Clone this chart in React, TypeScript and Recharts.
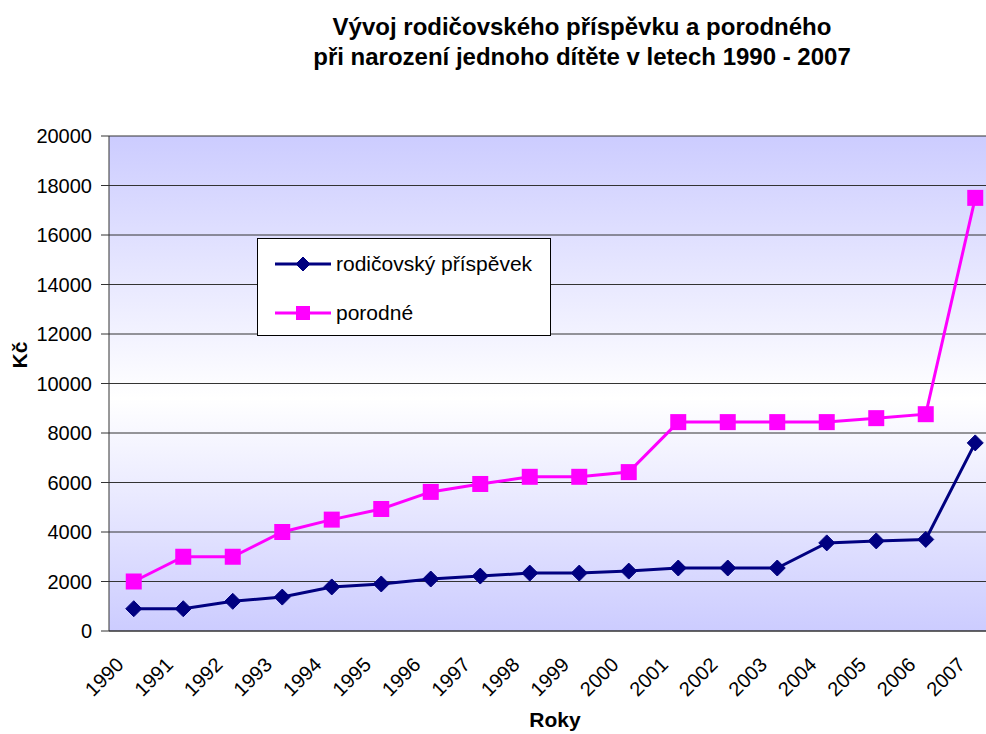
import React from 'react'
import { LineChart, Line, XAxis, YAxis, CartesianGrid } from 'recharts'

const years = [
  '1990', '1991', '1992', '1993', '1994', '1995', '1996', '1997', '1998',
  '1999', '2000', '2001', '2002', '2003', '2004', '2005', '2006', '2007',
]
const rodicovsky = [
  900, 900, 1200, 1370, 1780, 1900, 2100, 2220, 2340,
  2340, 2420, 2545, 2545, 2545, 3560, 3640, 3700, 7600,
]
const porodne = [
  2000, 3000, 3000, 4000, 4500, 4930, 5620, 5940, 6230,
  6230, 6420, 8440, 8440, 8440, 8440, 8600, 8760, 17500,
]
const yTicks = [0, 2000, 4000, 6000, 8000, 10000, 12000, 14000, 16000, 18000, 20000]

const FONT = '"Liberation Sans", Arial, sans-serif'
const NAVY = '#000080'
const PINK = '#ff00ff'

// one slot per year; boundaries carry the tick marks, slot centres carry the points
const data = years.map((year, i) => ({
  year,
  slot: i + 0.5,
  rodic: rodicovsky[i],
  porod: porodne[i],
}))
const boundaryTicks = years.map((_, i) => i).concat(years.length)
const labelTicks = years.map((_, i) => i + 0.5)

function Diamond({ cx, cy, size = 8 }: { cx: number; cy: number; size?: number }) {
  return (
    <path
      d={`M${cx},${cy - size} L${cx + size},${cy} L${cx},${cy + size} L${cx - size},${cy} Z`}
      fill={NAVY}
      stroke={NAVY}
    />
  )
}

function Square({ cx, cy, size = 8 }: { cx: number; cy: number; size?: number }) {
  return <rect x={cx - size} y={cy - size} width={size * 2} height={size * 2} fill={PINK} />
}

function YearTick(props: any) {
  const { x, y, payload } = props
  const label = years[Math.floor(payload.value)]
  if (!label) return null
  const ax = x - 9
  const ay = y + 27
  return (
    <text
      x={ax}
      y={ay}
      transform={`rotate(-45 ${ax} ${ay})`}
      textAnchor="end"
      fontSize={20}
      fontFamily={FONT}
      fill="#000"
    >
      {label}
    </text>
  )
}

function LegendRow({ label, marker }: { label: string; marker: 'diamond' | 'square' }) {
  const color = marker === 'diamond' ? NAVY : PINK
  return (
    <div style={{ display: 'flex', alignItems: 'center', height: 49 }}>
      <svg width={58} height={20} style={{ marginLeft: 17, marginRight: 3 }}>
        <line x1={0} y1={10} x2={56} y2={10} stroke={color} strokeWidth={3} />
        {marker === 'diamond' ? <Diamond cx={28} cy={10} size={7} /> : <Square cx={28} cy={10} size={7} />}
      </svg>
      <span style={{ fontSize: 21, color: '#000' }}>{label}</span>
    </div>
  )
}

export default function App() {
  return (
    <div
      style={{
        position: 'absolute',
        left: 0,
        top: 0,
        width: 986,
        height: 734,
        overflow: 'hidden',
        background: '#fff',
        fontFamily: FONT,
      }}
    >
      <div
        style={{
          position: 'absolute',
          left: 182,
          top: 12,
          width: 800,
          textAlign: 'center',
          fontSize: 24,
          fontWeight: 'bold',
          lineHeight: '30px',
        }}
      >
        Vývoj rodičovského příspěvku a porodného
        <br />
        při narození jednoho dítěte v letech 1990 - 2007
      </div>

      <LineChart
        width={1010}
        height={734}
        data={data}
        margin={{ top: 136, right: 10, left: 0, bottom: 0 }}
      >
        <defs>
          <linearGradient id="plotBg" x1="0" y1="0" x2="0" y2="1">
            <stop offset="0%" stopColor="#ccccff" />
            <stop offset="53%" stopColor="#ffffff" />
            <stop offset="100%" stopColor="#ccccff" />
          </linearGradient>
        </defs>
        <CartesianGrid
          vertical={false}
          stroke="#333"
          fill="url(#plotBg)"
          fillOpacity={1}
        />
        <XAxis
          xAxisId="a_marks"
          type="number"
          dataKey="slot"
          domain={[0, years.length]}
          ticks={boundaryTicks}
          tick={false}
          tickSize={8}
          height={8}
          stroke="#333"
          allowDataOverflow
        />
        <XAxis
          xAxisId="b_labels"
          type="number"
          dataKey="slot"
          domain={[0, years.length]}
          ticks={labelTicks}
          tick={<YearTick />}
          tickLine={false}
          axisLine={false}
          tickSize={0}
          tickMargin={0}
          height={95}
          interval={0}
          allowDataOverflow
        />
        <YAxis
          domain={[0, 20000]}
          ticks={yTicks}
          width={109}
          tickSize={8}
          tickMargin={9}
          stroke="#333"
          interval={0}
          tick={{ fill: '#000', fontSize: 20, fontFamily: FONT }}
        />
        <Line
          xAxisId="b_labels"
          dataKey="rodic"
          stroke={NAVY}
          strokeWidth={3}
          dot={(p: any) => <Diamond key={`d${p.index}`} cx={p.cx} cy={p.cy} />}
          isAnimationActive={false}
        />
        <Line
          xAxisId="b_labels"
          dataKey="porod"
          stroke={PINK}
          strokeWidth={3}
          dot={(p: any) => <Square key={`s${p.index}`} cx={p.cx} cy={p.cy} />}
          isAnimationActive={false}
        />
      </LineChart>

      <div
        style={{
          position: 'absolute',
          left: 20,
          top: 355,
          transform: 'translate(-50%, -50%) rotate(-90deg)',
          fontSize: 21,
          fontWeight: 'bold',
          whiteSpace: 'nowrap',
        }}
      >
        Kč
      </div>
      <div
        style={{
          position: 'absolute',
          left: 455,
          top: 708,
          width: 200,
          textAlign: 'center',
          fontSize: 21,
          fontWeight: 'bold',
          lineHeight: '24px',
        }}
      >
        Roky
      </div>

      <div
        style={{
          position: 'absolute',
          left: 257,
          top: 238,
          width: 292,
          height: 96,
          border: '1px solid #000',
          background: '#fff',
        }}
      >
        <LegendRow label="rodičovský příspěvek" marker="diamond" />
        <LegendRow label="porodné" marker="square" />
      </div>
    </div>
  )
}
